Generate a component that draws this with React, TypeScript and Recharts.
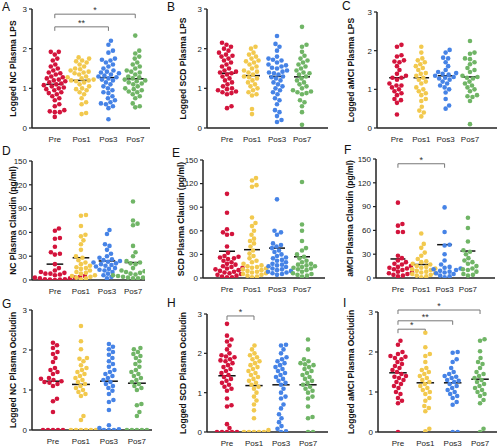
import React from 'react';
import { ScatterChart, Scatter, XAxis, YAxis, ReferenceLine } from 'recharts';

const groups = ['Pre', 'Pos1', 'Pos3', 'Pos7'];
const colors = ['#d3143c', '#f2c94e', '#4683e6', '#70b566'];
const lpsTicks = [0, 1, 2, 3];
const claudinTicks = [0, 30, 60, 90, 120, 150];

// A: NC plasma LPS (logged)
const ncLps = [
  [1.92, 1.92, 1.85, 1.75, 1.7, 1.6, 1.55, 1.5, 1.45, 1.4, 1.38, 1.35, 1.3, 1.28, 1.25, 1.22, 1.2, 1.18, 1.15, 1.12, 1.1, 1.08, 1.05, 1.02, 1.0, 0.98, 0.95, 0.9, 0.88, 0.85, 0.8, 0.75, 0.7, 0.6, 0.55, 0.45, 0.42, 0.4, 0.4, 0.28],
  [1.78, 1.75, 1.7, 1.68, 1.65, 1.6, 1.55, 1.5, 1.48, 1.45, 1.42, 1.4, 1.38, 1.35, 1.3, 1.28, 1.25, 1.22, 1.2, 1.2, 1.18, 1.15, 1.1, 1.05, 1.0, 0.98, 0.95, 0.9, 0.85, 0.75, 0.65, 0.6, 0.38, 0.35],
  [2.2, 2.1, 1.95, 1.9, 1.75, 1.72, 1.7, 1.65, 1.6, 1.55, 1.5, 1.45, 1.42, 1.4, 1.38, 1.35, 1.32, 1.3, 1.28, 1.25, 1.22, 1.2, 1.15, 1.1, 1.05, 1.0, 0.95, 0.9, 0.88, 0.8, 0.75, 0.7, 0.65, 0.62, 0.6, 0.55, 0.5, 0.22],
  [2.33, 1.95, 1.88, 1.8, 1.75, 1.65, 1.6, 1.55, 1.5, 1.45, 1.42, 1.4, 1.35, 1.3, 1.28, 1.25, 1.22, 1.2, 1.18, 1.15, 1.12, 1.1, 1.05, 1.0, 0.98, 0.95, 0.92, 0.9, 0.85, 0.8, 0.75, 0.62, 0.55, 0.52],
];
const ncLpsMean = [1.1, 1.2, 1.27, 1.24];
const ncLpsSig = [
  { from: 1, to: 4, level: 2.87, mark: '*' },
  { from: 1, to: 3, level: 2.55, mark: '**' },
];

// B: SCD plasma LPS (logged)
const scdLps = [
  [2.15, 2.1, 2.05, 2.0, 1.95, 1.9, 1.85, 1.82, 1.8, 1.75, 1.7, 1.65, 1.6, 1.55, 1.5, 1.45, 1.42, 1.4, 1.38, 1.35, 1.3, 1.25, 1.2, 1.15, 1.1, 1.05, 1.0, 0.98, 0.95, 0.92, 0.9, 0.88, 0.85, 0.55, 0.5],
  [2.05, 2.0, 1.9, 1.85, 1.8, 1.75, 1.7, 1.68, 1.65, 1.6, 1.55, 1.5, 1.45, 1.42, 1.4, 1.35, 1.3, 1.28, 1.25, 1.2, 1.15, 1.1, 1.05, 1.0, 0.95, 0.9, 0.85, 0.82, 0.48, 0.35],
  [2.32, 2.12, 2.05, 1.95, 1.8, 1.75, 1.72, 1.7, 1.65, 1.6, 1.58, 1.55, 1.52, 1.5, 1.45, 1.42, 1.4, 1.38, 1.35, 1.3, 1.28, 1.25, 1.2, 1.15, 1.1, 1.05, 1.0, 0.95, 0.9, 0.85, 0.75, 0.7, 0.6, 0.45, 0.4, 0.3, 0.2, 0.15],
  [2.55, 2.1, 2.05, 1.92, 1.82, 1.75, 1.7, 1.65, 1.6, 1.55, 1.5, 1.45, 1.4, 1.38, 1.35, 1.3, 1.25, 1.2, 1.15, 1.1, 1.05, 1.0, 0.95, 0.92, 0.9, 0.88, 0.85, 0.7, 0.65, 0.55, 0.4, 0.08],
];
const scdLpsMean = [1.38, 1.32, 1.3, 1.29];

// C: aMCI plasma LPS (logged)
const amciLps = [
  [2.15, 2.1, 1.88, 1.85, 1.75, 1.72, 1.7, 1.6, 1.5, 1.4, 1.35, 1.3, 1.3, 1.25, 1.15, 1.1, 1.1, 1.05, 1.0, 0.95, 0.9, 0.85, 0.75, 0.72, 0.65, 0.35],
  [2.1, 1.95, 1.8, 1.75, 1.7, 1.65, 1.6, 1.55, 1.5, 1.42, 1.4, 1.35, 1.3, 1.25, 1.2, 1.15, 1.05, 1.0, 0.95, 0.9, 0.85, 0.75, 0.7, 0.55, 0.45, 0.4, 0.3],
  [2.02, 1.95, 1.82, 1.8, 1.7, 1.6, 1.5, 1.45, 1.42, 1.4, 1.38, 1.35, 1.32, 1.3, 1.28, 1.25, 1.2, 1.15, 1.1, 1.05, 1.0, 0.92, 0.75, 0.58, 0.5],
  [2.25, 1.95, 1.92, 1.8, 1.78, 1.7, 1.65, 1.55, 1.5, 1.45, 1.35, 1.32, 1.3, 1.28, 1.2, 1.15, 1.1, 1.05, 1.0, 0.95, 0.85, 0.82, 0.8, 0.7, 0.1],
];
const amciLpsMean = [1.3, 1.3, 1.35, 1.32];

// D: NC plasma claudin (pg/ml)
const ncClaudin = [
  [65, 62, 53, 52, 42, 35, 33, 32, 20, 15, 12, 10, 9, 8, 8, 7, 6, 5, 5, 4, 4, 3, 3, 2, 2, 1, 1, 0.5, 0.5, 0],
  [82, 81, 68, 57, 55, 50, 45, 38, 30, 28, 25, 22, 20, 18, 16, 15, 14, 12, 10, 9, 8, 6, 5, 4, 3, 2, 1],
  [63, 58, 45, 43, 38, 33, 30, 28, 26, 25, 24, 23, 22, 21, 20, 19, 18, 17, 15, 14, 13, 12, 10, 8, 6, 4, 2],
  [99, 75, 71, 69, 43, 35, 30, 24, 22, 21, 20, 15, 12, 11, 10, 9, 8, 7, 6, 5, 5, 4, 4, 3, 3, 2, 2],
];
const ncClaudinMean = [20, 28, 24, 22];

// E: SCD plasma claudin (pg/ml)
const scdClaudin = [
  [107, 83, 62, 58, 56, 55, 40, 32, 28, 27, 26, 25, 24, 22, 20, 18, 17, 15, 14, 13, 12, 11, 10, 9, 8, 7, 6, 5, 4, 3, 2, 1, 1],
  [127, 124, 118, 116, 77, 70, 66, 60, 55, 50, 47, 44, 40, 35, 31, 28, 25, 22, 20, 18, 16, 15, 14, 13, 12, 11, 10, 9, 8, 7, 6, 5, 4, 3, 2, 1],
  [100, 60, 58, 55, 44, 42, 40, 38, 35, 33, 30, 28, 26, 25, 23, 22, 20, 18, 17, 16, 15, 14, 12, 11, 10, 9, 8, 7, 6, 5, 4],
  [122, 68, 60, 47, 38, 35, 30, 27, 25, 22, 20, 18, 17, 16, 15, 14, 13, 12, 11, 10, 8, 6, 5, 4, 3, 2],
];
const scdClaudinMean = [34, 36, 38, 27];

// F: aMCI plasma claudin (pg/ml)
const amciClaudin = [
  [95, 68, 66, 58, 58, 28, 25, 22, 20, 18, 17, 15, 14, 13, 12, 11, 10, 8, 7, 6, 5, 4, 3, 2],
  [56, 43, 38, 32, 28, 24, 21, 20, 18, 17, 15, 14, 13, 12, 11, 10, 9, 8, 7, 6, 5, 4, 3, 2, 1],
  [89, 58, 42, 41, 30, 22, 17, 14, 13, 12, 11, 10, 9, 8, 7, 6, 5, 3, 2, 1],
  [76, 63, 46, 35, 33, 30, 25, 22, 20, 18, 15, 12, 11, 10, 8, 5, 4, 3],
];
const amciClaudinMean = [24, 17, 42, 34];
const amciClaudinSig = [{ from: 1, to: 3, level: 144, mark: '*' }];

// G: NC plasma occludin (logged)
const ncOccludin = [
  [2.18, 2.12, 2.05, 1.95, 1.9, 1.8, 1.7, 1.55, 1.5, 1.45, 1.4, 1.3, 1.28, 1.25, 1.22, 1.2, 1.18, 1.15, 1.1, 0.78, 0.72, 0.45, 0, 0, 0, 0, 0],
  [2.6, 2.22, 2.02, 1.8, 1.78, 1.72, 1.62, 1.55, 1.5, 1.45, 1.4, 1.35, 1.3, 1.25, 1.2, 1.15, 1.1, 1.05, 1.0, 0.95, 0.9, 0.85, 0.35, 0.25, 0, 0, 0, 0, 0, 0],
  [2.15, 2.08, 2.02, 1.95, 1.88, 1.8, 1.72, 1.65, 1.58, 1.5, 1.45, 1.4, 1.35, 1.3, 1.25, 1.2, 1.15, 1.1, 1.05, 0.98, 0.9, 0.75, 0.7, 0.5, 0.12, 0.05, 0.02, 0, 0, 0],
  [2.05, 2.02, 1.95, 1.9, 1.85, 1.8, 1.72, 1.65, 1.58, 1.5, 1.45, 1.4, 1.35, 1.3, 1.25, 1.2, 1.15, 1.1, 1.05, 1.0, 0.65, 0.62, 0.45, 0.35, 0, 0, 0, 0, 0],
];
const ncOccludinMean = [1.22, 1.14, 1.22, 1.17];

// H: SCD plasma occludin (logged)
const scdOccludin = [
  [2.75, 2.45, 2.35, 2.3, 2.2, 2.1, 2.0, 1.95, 1.92, 1.9, 1.85, 1.82, 1.8, 1.75, 1.7, 1.65, 1.6, 1.55, 1.5, 1.45, 1.4, 1.35, 1.3, 1.25, 1.2, 1.15, 1.1, 1.05, 0.85, 0.68, 0.65, 0.2, 0.1, 0, 0, 0, 0, 0],
  [2.2, 2.1, 2.0, 1.95, 1.9, 1.85, 1.8, 1.75, 1.7, 1.65, 1.6, 1.55, 1.5, 1.45, 1.4, 1.35, 1.3, 1.25, 1.2, 1.15, 1.1, 1.0, 0.9, 0.8, 0.7, 0.55, 0.35, 0.05, 0, 0, 0, 0, 0],
  [2.22, 2.2, 2.1, 2.0, 1.9, 1.85, 1.8, 1.75, 1.7, 1.65, 1.6, 1.55, 1.5, 1.45, 1.4, 1.35, 1.3, 1.25, 1.2, 1.1, 1.0, 0.9, 0.85, 0.7, 0.6, 0.45, 0.35, 0.25, 0.15, 0.08, 0.02, 0],
  [2.35, 2.1, 1.85, 1.8, 1.75, 1.72, 1.7, 1.65, 1.6, 1.55, 1.5, 1.45, 1.4, 1.35, 1.3, 1.25, 1.2, 1.15, 1.1, 1.05, 1.0, 0.9, 0.85, 0.65, 0.38, 0.35, 0, 0],
];
const scdOccludinMean = [1.43, 1.18, 1.2, 1.2];
const scdOccludinSig = [{ from: 1, to: 2, level: 2.95, mark: '*' }];

// I: aMCI plasma occludin (logged)
const amciOccludin = [
  [2.28, 2.18, 2.0, 1.95, 1.9, 1.88, 1.85, 1.82, 1.75, 1.7, 1.65, 1.6, 1.55, 1.5, 1.45, 1.4, 1.38, 1.35, 1.3, 1.25, 1.2, 1.15, 1.1, 1.0, 0.95, 0.85, 0.78, 0.72, 0],
  [2.48, 2.12, 1.95, 1.9, 1.75, 1.6, 1.55, 1.5, 1.45, 1.4, 1.35, 1.3, 1.25, 1.2, 1.15, 1.1, 1.05, 1.0, 0.95, 0.85, 0.78, 0.65, 0.6, 0.52, 0.08, 0.02],
  [2.0, 1.98, 1.82, 1.75, 1.6, 1.5, 1.45, 1.4, 1.38, 1.35, 1.3, 1.28, 1.25, 1.2, 1.15, 1.1, 1.05, 1.0, 0.95, 0.9, 0.85, 0.75, 0.68, 0, 0],
  [2.32, 2.28, 2.02, 1.85, 1.75, 1.7, 1.6, 1.5, 1.45, 1.4, 1.35, 1.3, 1.25, 1.2, 1.15, 1.1, 1.05, 1.0, 0.95, 0.9, 0.8, 0.72, 0.08, 0],
];
const amciOccludinMean = [1.48, 1.23, 1.23, 1.32];
const amciOccludinSig = [
  { from: 1, to: 4, level: 3.05, mark: '*' },
  { from: 1, to: 3, level: 2.78, mark: '**' },
  { from: 1, to: 2, level: 2.57, mark: '*' },
];

// beeswarm offsets (pixels) so dots of one group don't overlap
function swarm(values: number[], pxPerUnit: number, d: number) {
  const order = values.map((_, i) => i).sort((a, b) => values[a] - values[b]);
  const placed: { x: number; y: number }[] = [];
  const out: number[] = new Array(values.length).fill(0);
  for (const i of order) {
    const y = values[i] * pxPerUnit;
    let best = 0;
    for (let k = 0; k < 400; k++) {
      const off = (k % 2 === 1 ? 1 : -1) * Math.ceil(k / 2) * 0.5;
      if (placed.every(p => (p.x - off) ** 2 + (p.y - y) ** 2 >= d * d)) {
        best = off;
        break;
      }
    }
    placed.push({ x: best, y });
    out[i] = best;
  }
  return out;
}

const font = 'Liberation Sans, Arial, sans-serif';
const axisColor = '#222';

const AxisTitle = ({ text, x, y }: any) => (
  <text
    x={x}
    y={y}
    transform={`rotate(-90 ${x} ${y})`}
    textAnchor="middle"
    fontSize={8.5}
    fontWeight="bold"
    fill="#111"
    fontFamily={font}
  >
    {text}
  </text>
);

const Dot = (props: any) => {
  const { cx, cy, payload, fill } = props;
  if (cx == null || cy == null) return null;
  return <circle cx={cx + payload.dx} cy={cy} r={2.3} fill={fill} />;
};

const panels = [
  { letter: 'A', lx: 2, ly: 11, left: 0, top: 0, x0: 32, x1: 150, yT: 9, yB: 128, dom: [0.15, 4.55], yMax: 3, ticks: lpsTicks, values: ncLps, means: ncLpsMean, sig: ncLpsSig, title: 'Logged  NC Plasma LPS', tx: 15 },
  { letter: 'B', lx: 167, ly: 11, left: 165, top: 0, x0: 207, x1: 328, yT: 9, yB: 128, dom: [0.2, 5.04], yMax: 3, ticks: lpsTicks, values: scdLps, means: scdLpsMean, sig: [], title: 'Logged  SCD Plasma LPS', tx: 190 },
  { letter: 'C', lx: 342, ly: 10, left: 330, top: 0, x0: 377, x1: 497, yT: 12, yB: 128, dom: [0.18, 5.11], yMax: 3, ticks: lpsTicks, values: amciLps, means: amciLpsMean, sig: [], title: 'Logged  aMCI  Plasma LPS', tx: 352 },
  { letter: 'D', lx: 2, ly: 155, left: 0, top: 145, x0: 32, x1: 145, yT: 161, yB: 280, dom: [0.12, 4.46], yMax: 150, ticks: claudinTicks, values: ncClaudin, means: ncClaudinMean, sig: [], title: 'NC Plasma Claudin (pg/ml)', tx: 14 },
  { letter: 'E', lx: 172, ly: 157, left: 165, top: 145, x0: 203, x1: 325, yT: 160, yB: 278, dom: [0.04, 4.92], yMax: 150, ticks: claudinTicks, values: scdClaudin, means: scdClaudinMean, sig: [], title: 'SCD Plasma Claudin (pg/ml)', tx: 178 },
  { letter: 'F', lx: 344, ly: 154, left: 330, top: 145, x0: 376, x1: 495, yT: 159, yB: 278, dom: [0.06, 5.16], yMax: 150, ticks: claudinTicks, values: amciClaudin, means: amciClaudinMean, sig: amciClaudinSig, title: 'aMCI Plasma Claudin (pg/ml)', tx: 356 },
  { letter: 'G', lx: 2, ly: 308, left: 0, top: 295, x0: 32, x1: 152, yT: 310, yB: 430, dom: [0.25, 4.54], yMax: 3, ticks: lpsTicks, values: ncOccludin, means: ncOccludinMean, sig: [], title: 'Logged  NC Plasma Occludin', tx: 16 },
  { letter: 'H', lx: 167, ly: 307, left: 165, top: 295, x0: 207, x1: 328, yT: 314, yB: 432, dom: [0.26, 4.74], yMax: 3, ticks: lpsTicks, values: scdOccludin, means: scdOccludinMean, sig: scdOccludinSig, title: 'Logged  SCD Plasma Occludin', tx: 188 },
  { letter: 'I', lx: 343, ly: 307, left: 330, top: 295, x0: 378, x1: 497, yT: 312, yB: 432, dom: [0.27, 4.62], yMax: 3, ticks: lpsTicks, values: amciOccludin, means: amciOccludinMean, sig: amciOccludinSig, title: 'Logged  aMCI Plasma Occludin', tx: 358 },
];

const Panel = ({ p }: any) => {
  const W = p.x1 - p.left + 3;
  const H = p.yB - p.top + 18;
  const ppu = (p.yB - p.yT) / p.yMax;
  const series = p.values.map((vals: number[], g: number) => {
    const dx = swarm(vals, ppu, 4.6);
    return vals.map((v, i) => ({ x: g + 1, y: v, dx: dx[i] }));
  });
  const drop = 4 / ppu;
  const titleY = (p.yT + p.yB) / 2 - 3 - p.top;

  return (
    <div style={{ position: 'absolute', left: p.left, top: p.top }}>
      <ScatterChart width={W} height={H} margin={{ top: p.yT - p.top, right: W - (p.x1 - p.left), bottom: 0, left: 0 }}>
        <XAxis
          type="number"
          dataKey="x"
          domain={p.dom}
          allowDataOverflow
          ticks={[1, 2, 3, 4]}
          tickFormatter={(v: number) => groups[v - 1]}
          tickLine={false}
          tickSize={4}
          tickMargin={4}
          height={18}
          axisLine={{ stroke: axisColor, strokeWidth: 1.5 }}
          tick={{ fontSize: 8, fill: '#222', fontFamily: font }}
        />
        <YAxis
          type="number"
          dataKey="y"
          domain={[0, p.yMax]}
          allowDataOverflow
          ticks={p.ticks}
          width={p.x0 - p.left}
          tickSize={3}
          tickMargin={2}
          tickLine={{ stroke: axisColor, strokeWidth: 1.2 }}
          axisLine={{ stroke: axisColor, strokeWidth: 1.5 }}
          tick={{ fontSize: 8, fill: '#222', fontFamily: font }}
          label={<AxisTitle text={p.title} x={p.tx - p.left} y={titleY} />}
        />
        {series.map((d: any, g: number) => (
          <Scatter key={groups[g]} data={d} fill={colors[g]} shape={<Dot />} isAnimationActive={false} />
        ))}
        {p.means.map((m: number, g: number) => (
          <ReferenceLine
            key={'m' + g}
            segment={[{ x: g + 1 - 0.32, y: m }, { x: g + 1 + 0.32, y: m }]}
            stroke="#111"
            strokeWidth={1.5}
            ifOverflow="visible"
          />
        ))}
        {p.sig.map((s: any, i: number) => (
          <React.Fragment key={'s' + i}>
            <ReferenceLine
              segment={[{ x: s.from, y: s.level }, { x: s.to, y: s.level }]}
              stroke="#777"
              strokeWidth={1}
              ifOverflow="visible"
              label={{ value: s.mark, position: 'top', offset: 1, fontSize: 9, fill: '#333', fontFamily: font }}
            />
            <ReferenceLine segment={[{ x: s.from, y: s.level }, { x: s.from, y: s.level - drop }]} stroke="#777" strokeWidth={1} ifOverflow="visible" />
            <ReferenceLine segment={[{ x: s.to, y: s.level }, { x: s.to, y: s.level - drop }]} stroke="#777" strokeWidth={1} ifOverflow="visible" />
          </React.Fragment>
        ))}
      </ScatterChart>
    </div>
  );
};

export default function App() {
  return (
    <div style={{ position: 'fixed', left: 0, top: 0, width: 500, height: 447, background: '#fff', overflow: 'hidden' }}>
      {panels.map(p => (
        <Panel key={p.letter} p={p} />
      ))}
      <svg width={500} height={447} style={{ position: 'absolute', left: 0, top: 0, pointerEvents: 'none' }}>
        {panels.map(p => (
          <text key={p.letter} x={p.lx} y={p.ly} fontSize={12} fill="#111" fontFamily={font}>
            {p.letter}
          </text>
        ))}
      </svg>
    </div>
  );
}
